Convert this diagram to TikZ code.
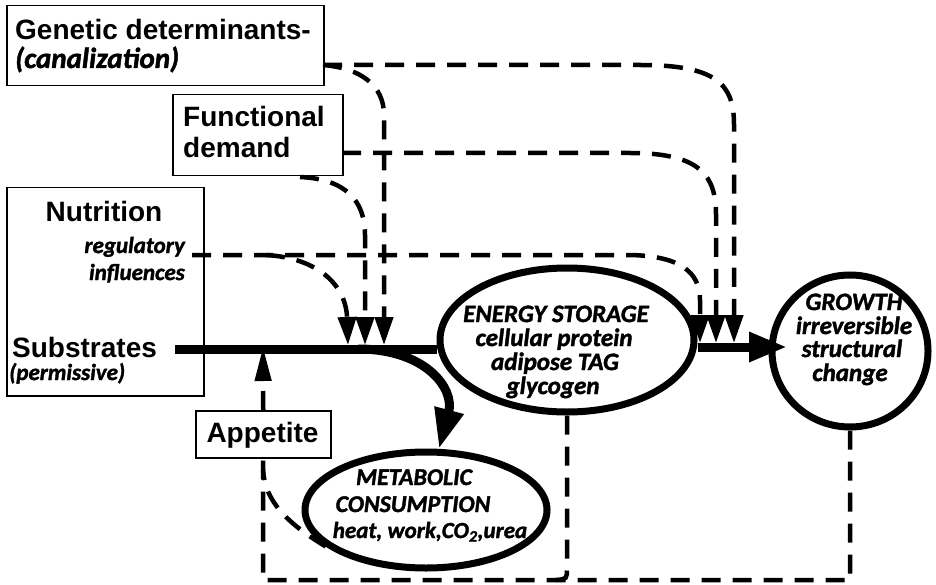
\documentclass[tikz,border=0pt]{standalone}
\usepackage{fontspec}
\setmainfont{Liberation Sans}
\newfontfamily\hum[BoldItalicFeatures={FakeBold=1.6}]{Carlito}
\usetikzlibrary{arrows.meta,shapes.geometric}
\begin{document}
\begin{tikzpicture}[x=1pt,y=-1pt,
  box/.style={draw, line width=1.5pt, inner sep=0pt, anchor=north west},
  dsh/.style={line width=4.5pt, dash pattern=on 19pt off 12pt},
  dtip/.style={-{Triangle[width=18pt,length=28pt]}},
  oval/.style={ellipse, draw, line width=7pt, inner sep=0pt},
  bsans/.style={font=\fontsize{28}{28}\selectfont\bfseries, inner sep=0pt},
  ital/.style={font=\hum\fontsize{#1}{#1}\selectfont\bfseries\itshape, inner sep=0pt},
  ital/.default=25,
  thickline/.style={line width=9pt}
]
\useasboundingbox (0,0) rectangle (936,585);

% boxes
\node[box, minimum width=317pt, minimum height=80pt] (genbox) at (6,5) {};
\node[box, minimum width=170pt, minimum height=81pt] (funbox) at (172,94) {};
\node[box, minimum width=197pt, minimum height=208pt] (nutbox) at (6,187) {};
\node[box, minimum width=135pt, minimum height=47pt] (app) at (195,410) {};

% box texts
\node[bsans, anchor=base west] (gen1) at (15,40) {Genetic determinants-};
\node[ital=29, anchor=base west] (gen2) at (15,68) {(canalization)};
\node[bsans, anchor=base west] (fun1) at (183,127) {Functional};
\node[bsans, anchor=base west] (fun2) at (183,158) {demand};
\node[bsans, anchor=base] (nut1) at (104,222) {Nutrition};
\node[ital=23, anchor=base east] (nut2) at (185,253) {regulatory};
\node[ital=23, anchor=base east] (nut3) at (185,280) {influences};
\node[bsans, anchor=base west] (sub1) at (12,357) {Substrates};
\node[ital=23, anchor=base west] (sub2) at (9,380) {(permissive)};
\node[bsans, anchor=base] (apptxt) at (262.5,442) {Appetite};

% ovals
\node[oval, minimum width=254pt, minimum height=144pt] (energy) at (567,340) {};
\node[oval, minimum width=156pt, minimum height=152pt] (growth) at (850,351) {};
\node[oval, minimum width=242pt, minimum height=116pt] (met) at (426,510) {};

% oval texts
\node[ital, anchor=base] (en1) at (556,322) {ENERGY STORAGE};
\node[ital, anchor=base] (en2) at (554,346) {cellular protein};
\node[ital, anchor=base] (en3) at (555,370) {adipose TAG};
\node[ital, anchor=base] (en4) at (553,394) {glycogen};
\node[ital, anchor=base] (gr1) at (854,310) {GROWTH};
\node[ital, anchor=base] (gr2) at (854,334) {irreversible};
\node[ital, anchor=base] (gr3) at (852,357) {structural};
\node[ital, anchor=base] (gr4) at (850,381) {change};
\node[ital=24, anchor=base] (me1) at (414,485) {METABOLIC};
\node[ital=24, anchor=base] (me2) at (413,512) {CONSUMPTION};
\node[ital=23, anchor=base] (me3) at (430,538) {heat, work,CO\textsubscript{2},urea};

% coordinates
\coordinate (sub) at (175,349);
\coordinate (split) at (358,349);
\coordinate (g0) at (323,65);
\coordinate (f0) at (342,153);
\coordinate (f1) at (300,177);
\coordinate (n0) at (192,255);
\coordinate (n1) at (266,255);
\coordinate (tl1) at (348,345);
\coordinate (tl2) at (365,345);
\coordinate (tl3) at (384,345);
\coordinate (tr1) at (700,343);
\coordinate (tr2) at (716,343);
\coordinate (tr3) at (734,343);
\coordinate (apptip) at (263,347);
\coordinate (gtip) at (787,347);
\coordinate (bl) at (263,580);
\coordinate (br) at (850,580);

% main flow
\draw[thickline] (sub) -- (energy.west |- sub);
\draw[thickline, -{Triangle[width=28pt,length=40pt]}] (split) .. controls (425,349) and (455,388) .. (met.78);
\draw[line width=9pt, -{Triangle[width=28pt,length=38pt]}] ([yshift=-7pt]energy.east) -- (gtip);

% genetic
\draw[dsh, dtip] (g0) -- (640,65) .. controls (718,65) and (734,85) .. (734,125) -- (tr3);
\draw[dsh, dtip] (g0) .. controls (360,68) and (384,85) .. (384,115) -- (tl3);
% functional
\draw[dsh, dtip] (f0) -- (630,153) .. controls (700,153) and (716,175) .. (716,215) -- (tr2);
\draw[dsh, dtip] (f1) .. controls (345,179) and (365,200) .. (365,235) -- (tl2);
% nutrition
\draw[dsh, dtip] (n0) -- (630,255) .. controls (680,256) and (700,272) .. (700,300) -- (tr1);
\draw[dsh, dtip] (n1) .. controls (318,258) and (346,285) .. (tl1);
% appetite
\draw[dsh, -{Triangle[width=16pt,length=34pt]}] (app.north) -- (apptip);
% feedback loop
\draw[dsh] (growth.south) -- (br) -- (bl) -- (app.south);
\draw[dsh] (energy.south) -- (567,568) .. controls (567,579) .. (556,580);
\draw[dsh] (met.200) .. controls (285,522) and (265,500) .. (263,470);
\end{tikzpicture}
\end{document}
